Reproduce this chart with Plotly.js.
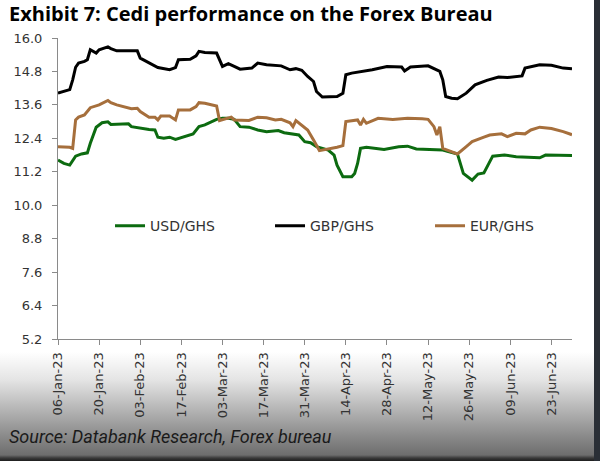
<!DOCTYPE html>
<html>
<head>
<meta charset="utf-8">
<script src="https://cdn.plot.ly/plotly-3.0.1.min.js"></script>
<style>
  html, body { margin: 0; padding: 0; }
  body {
    width: 600px; height: 461px; overflow: hidden; position: relative;
    background: linear-gradient(to bottom, #ffffff 0px, #ffffff 352px, #e4e4e4 380px, #b4b4b4 410px, #8c8c8c 435px, #6e6e6e 455px, #3a3a3a 458px, #1e1e1e 461px);
  }
  #chart { width: 600px; height: 461px; position: absolute; left: 0; top: 0; }
  #edge { position: absolute; right: 0; top: 0; width: 6px; height: 461px; background: #2a2f36; }
</style>
</head>
<body>
<div id="chart"></div>
<div id="edge"></div>
<script>
// ---- data ----
const usdDates = ['2023-01-06','2023-01-08','2023-01-10','2023-01-12','2023-01-14','2023-01-16','2023-01-17','2023-01-19','2023-01-21','2023-01-23','2023-01-24','2023-01-27','2023-01-30','2023-01-31','2023-02-03','2023-02-06','2023-02-08','2023-02-09','2023-02-11','2023-02-13','2023-02-15','2023-02-19','2023-02-21','2023-02-23','2023-02-25','2023-03-01','2023-03-03','2023-03-05','2023-03-07','2023-03-09','2023-03-12','2023-03-15','2023-03-18','2023-03-22','2023-03-24','2023-03-29','2023-03-30','2023-03-31','2023-04-02','2023-04-04','2023-04-08','2023-04-10','2023-04-11','2023-04-13','2023-04-16','2023-04-17','2023-04-18','2023-04-19','2023-04-21','2023-04-27','2023-05-02','2023-05-05','2023-05-08','2023-05-15','2023-05-17','2023-05-22','2023-05-23','2023-05-24','2023-05-27','2023-05-29','2023-05-31','2023-06-01','2023-06-03','2023-06-07','2023-06-11','2023-06-19','2023-06-21','2023-06-30'];
const usdGhs = [11.62,11.50,11.44,11.76,11.84,11.88,12.22,12.80,12.96,12.99,12.90,12.90,12.92,12.82,12.76,12.72,12.70,12.44,12.40,12.44,12.36,12.48,12.56,12.82,12.88,13.08,13.12,13.12,13.08,12.82,12.80,12.70,12.64,12.68,12.60,12.52,12.40,12.28,12.24,12.10,11.98,11.80,11.44,11.02,11.02,11.14,11.50,12.04,12.08,12.00,12.10,12.12,12.02,12.00,11.98,11.84,11.44,11.14,10.90,11.12,11.16,11.38,11.76,11.80,11.74,11.70,11.80,11.78];

const gbpDates = ['2023-01-06','2023-01-09','2023-01-10','2023-01-11','2023-01-12','2023-01-13','2023-01-15','2023-01-16','2023-01-17','2023-01-19','2023-01-20','2023-01-23','2023-01-24','2023-01-26','2023-02-02','2023-02-03','2023-02-06','2023-02-09','2023-02-13','2023-02-15','2023-02-16','2023-02-20','2023-02-22','2023-02-23','2023-02-25','2023-03-01','2023-03-03','2023-03-05','2023-03-07','2023-03-09','2023-03-13','2023-03-15','2023-03-18','2023-03-23','2023-03-26','2023-03-28','2023-03-30','2023-04-01','2023-04-03','2023-04-04','2023-04-06','2023-04-11','2023-04-13','2023-04-14','2023-04-16','2023-04-20','2023-04-23','2023-04-28','2023-05-03','2023-05-04','2023-05-06','2023-05-12','2023-05-16','2023-05-17','2023-05-18','2023-05-20','2023-05-22','2023-05-25','2023-05-28','2023-06-01','2023-06-05','2023-06-08','2023-06-13','2023-06-14','2023-06-19','2023-06-23','2023-06-27','2023-06-30'];
const gbpGhs = [14.02,14.10,14.15,14.50,14.95,15.10,15.16,15.22,15.58,15.46,15.58,15.68,15.62,15.54,15.54,15.28,15.12,14.94,14.86,14.94,15.22,15.24,15.36,15.52,15.48,15.46,14.98,15.08,14.98,14.88,14.92,15.10,15.04,15.00,14.86,14.90,14.84,14.62,14.44,14.08,13.88,13.90,14.02,14.68,14.74,14.80,14.86,14.98,14.96,14.82,14.96,15.00,14.80,14.50,13.90,13.84,13.82,14.02,14.32,14.48,14.60,14.58,14.64,14.92,15.04,15.02,14.92,14.90];

const eurDates = ['2023-01-06','2023-01-10','2023-01-11','2023-01-12','2023-01-13','2023-01-15','2023-01-17','2023-01-20','2023-01-23','2023-01-24','2023-01-26','2023-01-29','2023-01-31','2023-02-02','2023-02-03','2023-02-06','2023-02-08','2023-02-09','2023-02-10','2023-02-13','2023-02-15','2023-02-16','2023-02-20','2023-02-22','2023-02-23','2023-02-25','2023-03-01','2023-03-02','2023-03-04','2023-03-06','2023-03-07','2023-03-12','2023-03-15','2023-03-18','2023-03-21','2023-03-23','2023-03-26','2023-03-27','2023-03-28','2023-03-30','2023-04-01','2023-04-03','2023-04-05','2023-04-11','2023-04-13','2023-04-14','2023-04-16','2023-04-18','2023-04-19','2023-04-20','2023-04-21','2023-04-23','2023-04-25','2023-04-30','2023-05-05','2023-05-10','2023-05-12','2023-05-14','2023-05-15','2023-05-16','2023-05-17','2023-05-19','2023-05-22','2023-05-25','2023-05-27','2023-05-31','2023-06-02','2023-06-06','2023-06-08','2023-06-11','2023-06-14','2023-06-16','2023-06-19','2023-06-23','2023-06-27','2023-06-30'];
const eurGhs = [12.10,12.08,12.04,13.06,13.16,13.24,13.50,13.60,13.76,13.68,13.60,13.52,13.46,13.48,13.36,13.16,13.16,13.06,13.20,13.20,13.06,13.42,13.42,13.54,13.68,13.66,13.56,13.04,13.10,13.16,13.06,13.04,13.16,13.14,13.06,13.08,12.96,12.82,13.04,12.88,12.70,12.34,11.96,12.08,12.14,13.00,13.04,13.06,12.88,13.08,12.94,13.04,13.12,13.08,13.12,13.10,13.08,12.82,12.52,12.82,12.04,11.96,11.84,12.10,12.28,12.44,12.52,12.56,12.46,12.58,12.56,12.70,12.80,12.75,12.64,12.53];

const tickDates = ['2023-01-06','2023-01-20','2023-02-03','2023-02-17','2023-03-03','2023-03-17','2023-03-31','2023-04-14','2023-04-28','2023-05-12','2023-05-26','2023-06-09','2023-06-23'];
const tickLabels = ['06-Jan-23','20-Jan-23','03-Feb-23','17-Feb-23','03-Mar-23','17-Mar-23','31-Mar-23','14-Apr-23','28-Apr-23','12-May-23','26-May-23','09-Jun-23','23-Jun-23'];

const titleText = 'Exhibit 7: Cedi performance on the Forex Bureau';
const sourceText = 'Source: Databank Research, Forex bureau';

// ---- chart ----
const traces = [
  {x: usdDates, y: usdGhs, name: 'USD/GHS', type: 'scatter', mode: 'lines', line: {color: '#0c6b10', width: 3}},
  {x: gbpDates, y: gbpGhs, name: 'GBP/GHS', type: 'scatter', mode: 'lines', line: {color: '#000000', width: 3}},
  {x: eurDates, y: eurGhs, name: 'EUR/GHS', type: 'scatter', mode: 'lines', line: {color: '#a66f3c', width: 3}}
];

const axisFont = {family: '"DejaVu Sans", sans-serif', size: 13, color: '#333333'};

const layout = {
  width: 600, height: 461,
  margin: {l: 58, r: 28, t: 38, b: 122},
  paper_bgcolor: 'rgba(0,0,0,0)',
  plot_bgcolor: 'rgba(0,0,0,0)',
  title: {
    text: '<b>' + titleText + '</b>',
    font: {family: '"Open Sans", sans-serif', size: 20, color: '#000000'},
    xref: 'container', x: 9/600, xanchor: 'left',
    yref: 'container', y: 1 - 14/461, yanchor: 'middle'
  },
  xaxis: {
    type: 'date',
    range: ['2023-01-06', '2023-06-30'],
    tickmode: 'array', tickvals: tickDates, ticktext: tickLabels,
    tickangle: -90,
    ticks: 'outside', ticklen: 5, tickcolor: '#8a8a8a',
    showline: true, linecolor: '#8a8a8a', linewidth: 1,
    showgrid: false, zeroline: false,
    ticklabelstandoff: 2,
    tickfont: axisFont
  },
  yaxis: {
    range: [5.2, 16.0],
    tickmode: 'linear', tick0: 5.2, dtick: 1.2, tickformat: '.1f',
    ticks: 'outside', ticklen: 5, tickcolor: '#8a8a8a',
    showline: true, linecolor: '#8a8a8a', linewidth: 1,
    showgrid: false, zeroline: false,
    ticklabelstandoff: 7,
    tickfont: axisFont
  },
  legend: {
    orientation: 'h',
    x: 0.0623, xanchor: 'left',
    y: 0.375, yanchor: 'middle',
    bgcolor: 'rgba(0,0,0,0)',
    font: {family: '"DejaVu Sans", sans-serif', size: 14, color: '#333333'},
    indentation: 20,
    entrywidth: 95, entrywidthmode: 'pixels',
    traceorder: 'normal'
  },
  showlegend: true,
  annotations: [{
    text: '<i>' + sourceText + '</i>',
    xref: 'paper', yref: 'paper',
    x: (7 - 58) / 514, xanchor: 'left',
    y: -(449 - 339) / 301, yanchor: 'bottom',
    showarrow: false,
    font: {family: 'Roboto, sans-serif', size: 18, color: '#1a1a1a'}
  }]
};

Plotly.newPlot('chart', traces, layout, {displayModeBar: false, staticPlot: true});
</script>
</body>
</html>
